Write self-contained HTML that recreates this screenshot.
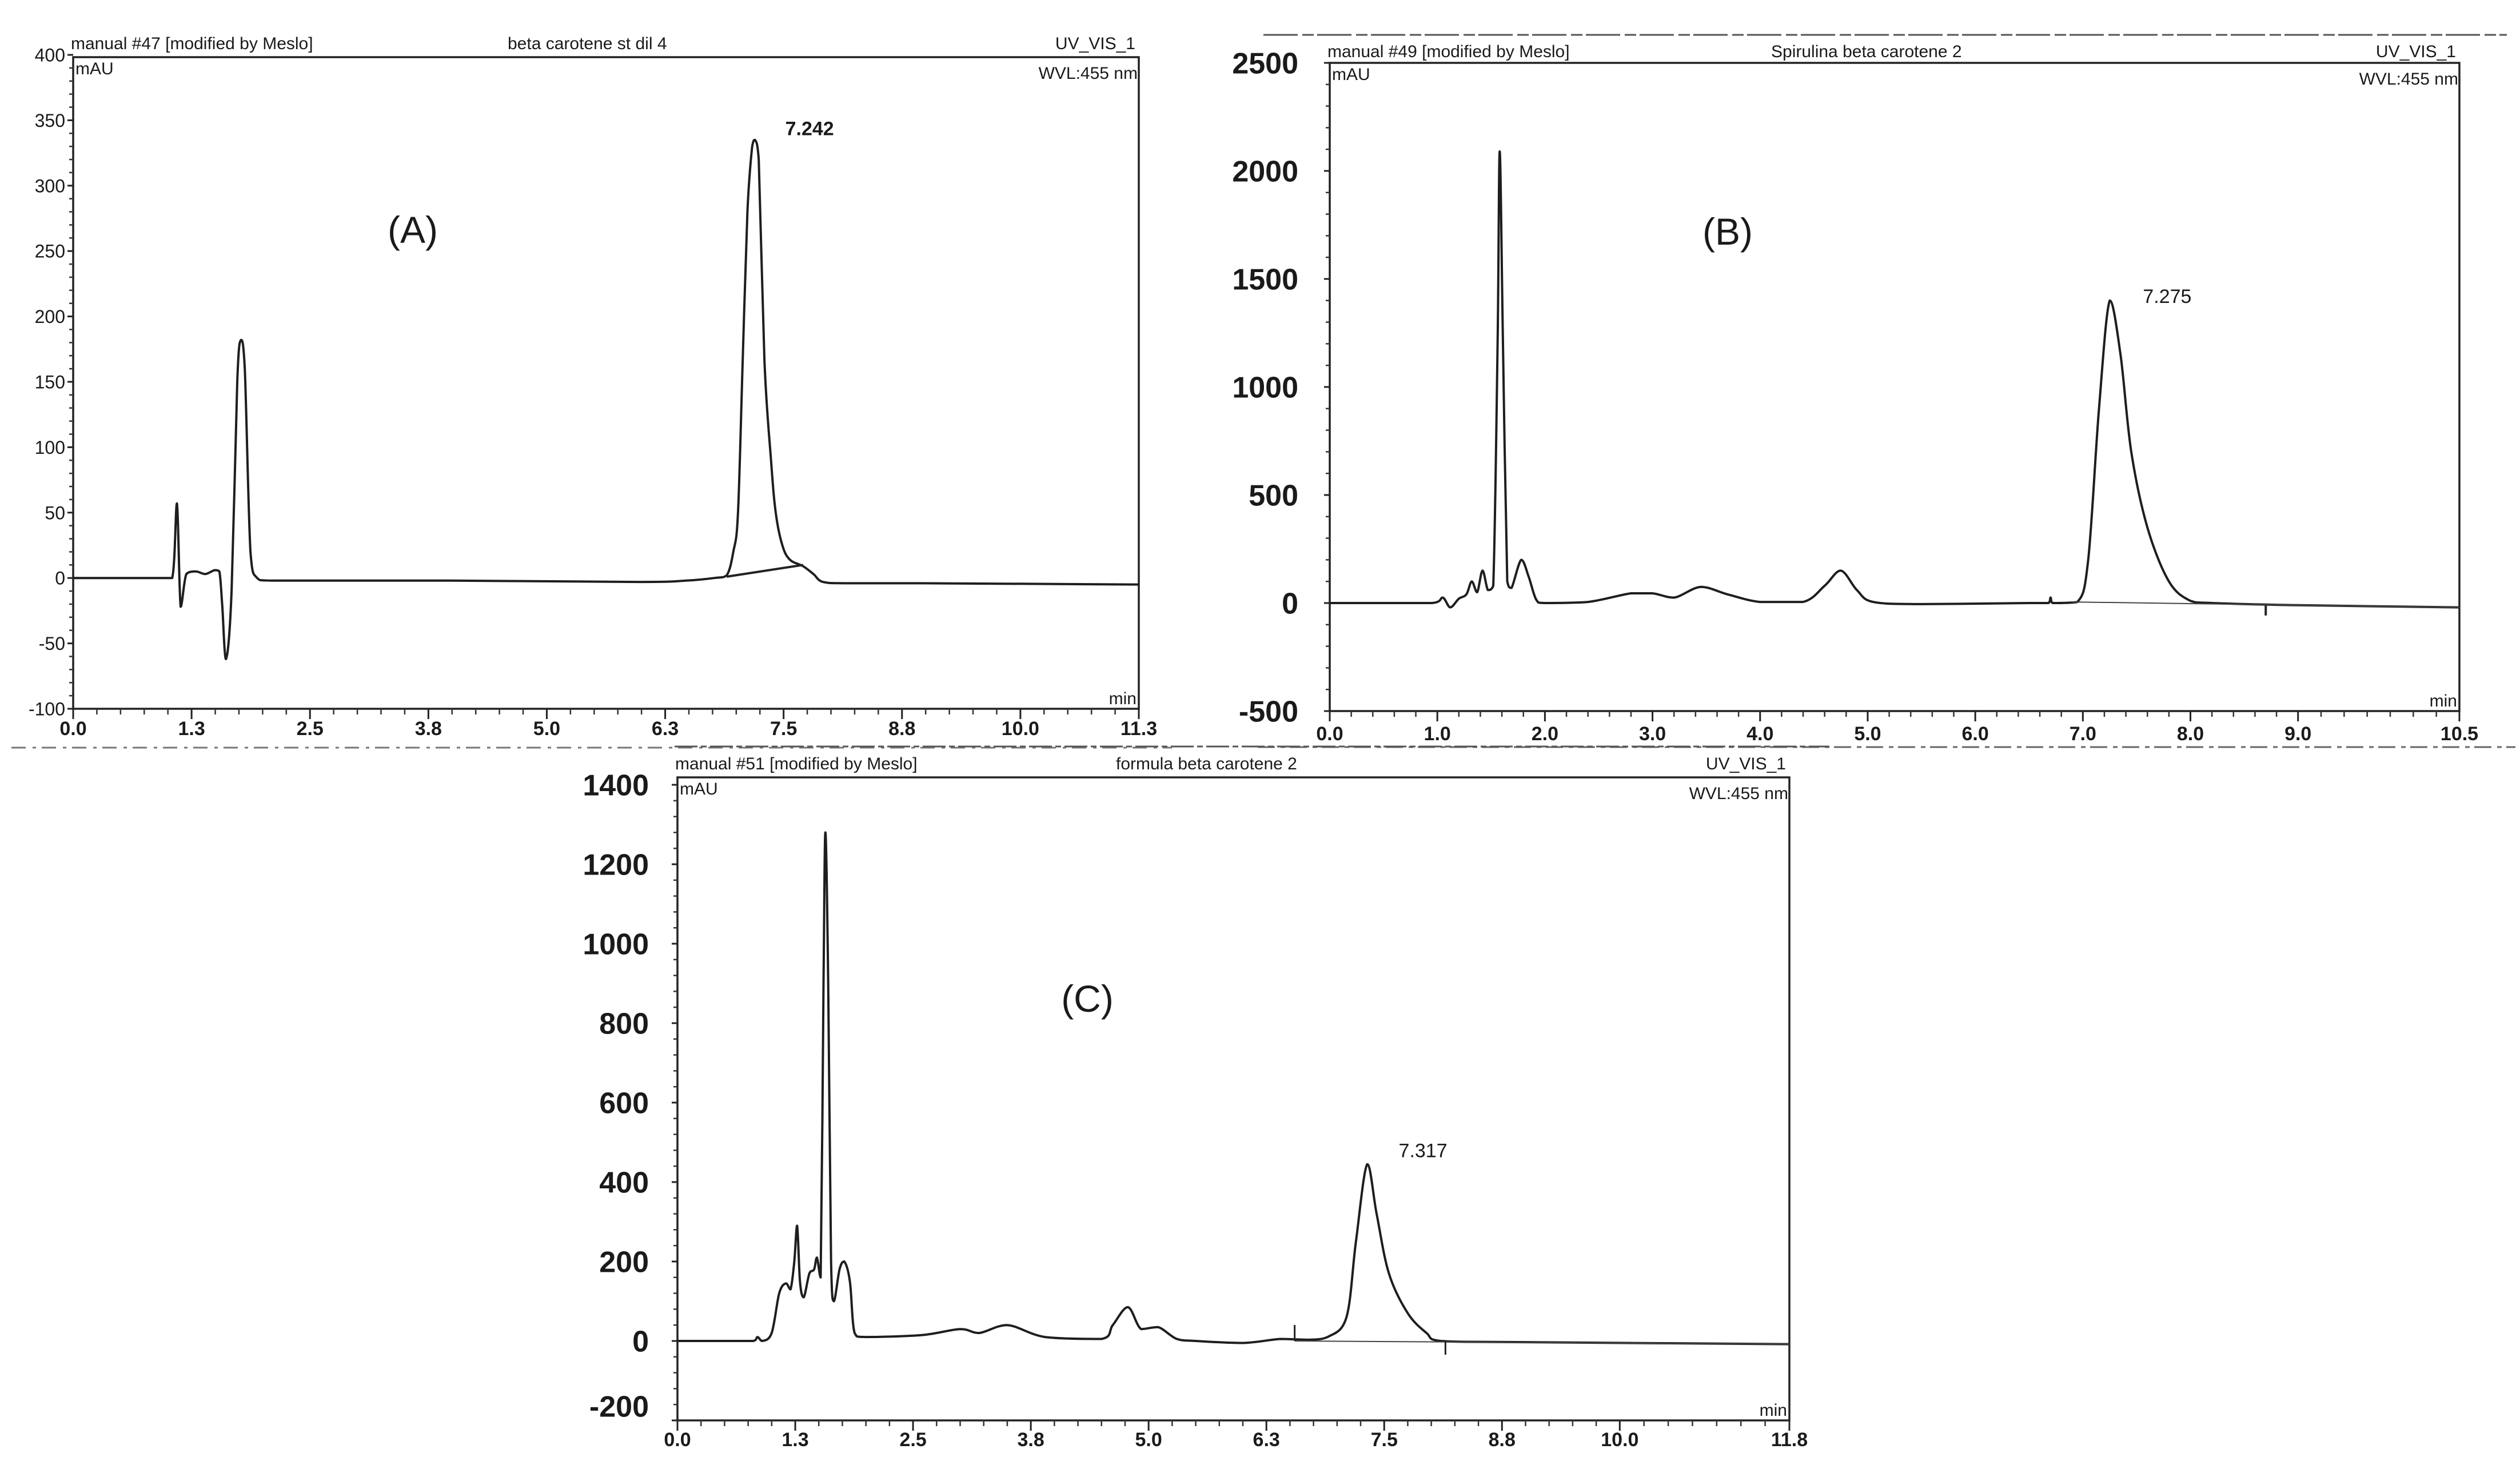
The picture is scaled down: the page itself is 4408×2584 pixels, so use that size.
<!DOCTYPE html>
<html><head><meta charset="utf-8"><style>
html,body{margin:0;padding:0;background:#fff;}
svg{display:block;}
text{font-family:"Liberation Sans",sans-serif;fill:#1a1a1a;}
</style></head>
<body>
<svg id="fig" width="4408" height="2584" viewBox="0 0 4408 2584" xmlns="http://www.w3.org/2000/svg">
<rect x="0" y="0" width="4408" height="2584" fill="#fff"/>
<g id="root"></g>
</svg>
<script>
// ---- Panel A data ----
const timesA = [0,0.9,1.05,1.1,1.14,1.2,1.3,1.4,1.5,1.55,1.58,1.62,1.68,1.74,1.78,1.82,1.88,1.95,2.1,4,6,6.5,6.8,6.93,7.0,7.05,7.1,7.15,7.2,7.23,7.27,7.33,7.4,7.45,7.52,7.6,7.74,7.85,7.95,8.2,9,11.3];
const valuesA = [0,0,0,57,-22,3,5,3,6,5,-20,-62,-10,150,182,160,20,0,-2,-2,-3,-2,0,2,20,50,167,280,330,335,320,167,90,50,25,14,9,3,-3,-4,-4,-5];
const yTicksA = [400,350,300,250,200,150,100,50,0,-50,-100];
const xTicksA = ["0.0","1.3","2.5","3.8","5.0","6.3","7.5","8.8","10.0","11.3"];
const xTickValsA = [0,1.2556,2.5111,3.7667,5.0222,6.2778,7.5333,8.7889,10.0444,11.3];
// ---- Panel B data ----
const timesB = [0,0.95,1.05,1.12,1.2,1.27,1.32,1.37,1.42,1.47,1.52,1.56,1.58,1.61,1.65,1.69,1.78,1.85,1.92,2.0,2.4,2.8,3.0,3.2,3.45,3.7,4.0,4.4,4.6,4.75,4.9,5.05,5.5,6.5,6.68,6.7,6.72,6.95,7.05,7.15,7.25,7.35,7.45,7.6,7.8,8.0,8.2,9,10.5];
const valuesB = [0,0,25,-20,20,40,100,50,150,60,80,1200,2090,1200,100,70,200,120,15,0,5,45,45,25,75,40,5,5,80,150,60,5,-5,0,0,25,0,5,200,900,1400,1150,700,350,100,10,0,-10,-20];
const yTicksB = [2500,2000,1500,1000,500,0,-500];
const xTicksB = ["0.0","1.0","2.0","3.0","4.0","5.0","6.0","7.0","8.0","9.0","10.5"];
const xTickValsB = [0,1,2,3,4,5,6,7,8,9,10.5];
// ---- Panel C data ----
const timesC = [0,0.8,0.85,0.9,1.0,1.08,1.15,1.2,1.24,1.27,1.3,1.34,1.4,1.45,1.48,1.52,1.55,1.57,1.6,1.63,1.66,1.72,1.77,1.83,1.88,2.0,2.6,3.0,3.2,3.5,3.9,4.5,4.62,4.78,4.92,5.1,5.3,5.5,6.0,6.4,6.7,6.9,7.1,7.2,7.32,7.42,7.55,7.75,7.95,8.1,9,11.8];
const valuesC = [0,0,10,0,20,120,145,130,200,290,150,110,170,180,210,160,900,1280,900,200,100,180,200,150,20,10,15,30,20,40,10,5,40,85,30,35,5,0,-5,5,3,10,60,250,445,320,170,70,20,0,-3,-8];
const yTicksC = [1400,1200,1000,800,600,400,200,0,-200];
const xTicksC = ["0.0","1.3","2.5","3.8","5.0","6.3","7.5","8.8","10.0","11.8"];
const xTickValsC = [0,1.25,2.5,3.75,5,6.25,7.5,8.75,10,11.8];

const NS = "http://www.w3.org/2000/svg";
const root = document.getElementById('root');
function mk(tag, attrs, parent, txt){
  const e = document.createElementNS(NS, tag);
  for (const k in attrs) e.setAttribute(k, attrs[k]);
  if (txt !== undefined) e.textContent = txt;
  parent.appendChild(e);
  return e;
}
function smoothPath(pts){
  let d = 'M'+pts[0][0].toFixed(1)+','+pts[0][1].toFixed(1);
  for (let i=0;i<pts.length-1;i++){
    const p0 = pts[Math.max(0,i-1)], p1 = pts[i], p2 = pts[i+1], p3 = pts[Math.min(pts.length-1,i+2)];
    const lo = Math.min(p1[1],p2[1]), hi = Math.max(p1[1],p2[1]);
    let c1x = p1[0]+(p2[0]-p0[0])/6, c1y = p1[1]+(p2[1]-p0[1])/6;
    let c2x = p2[0]-(p3[0]-p1[0])/6, c2y = p2[1]-(p3[1]-p1[1])/6;
    c1x = Math.min(Math.max(c1x,p1[0]),p2[0]); c2x = Math.min(Math.max(c2x,p1[0]),p2[0]);
    c1y = Math.min(Math.max(c1y,lo),hi); c2y = Math.min(Math.max(c2y,lo),hi);
    d += 'C'+c1x.toFixed(1)+','+c1y.toFixed(1)+' '+c2x.toFixed(1)+','+c2y.toFixed(1)+' '+p2[0].toFixed(1)+','+p2[1].toFixed(1);
  }
  return d;
}

function panel(cfg){
  const g = mk('g', {}, root);
  
  
  const xs = t => cfg.x0 + (t - cfg.tmin) / (cfg.tmax - cfg.tmin) * (cfg.x1 - cfg.x0);
  const ys = v => cfg.y0 + (cfg.vmax - v) / (cfg.vmax - cfg.vmin) * (cfg.y1 - cfg.y0);
  const fr = mk('rect', {x:cfg.x0, y:cfg.top, width:cfg.x1-cfg.x0, height:cfg.y1-cfg.top, fill:'none', stroke:'#222', 'stroke-width':3.5}, g);
  
  
  const ya = mk('g', {}, g);
  
  
  const yt = cfg.yTicks;
  const step = yt[0]-yt[1];
  for (let i=0;i<yt.length;i++){
    const y = ys(yt[i]);
    mk('line',{x1:cfg.x0-10,x2:cfg.x0,y1:y,y2:y,stroke:'#222','stroke-width':3},ya);
    const ly = (cfg.lastYShift && i===yt.length-1) ? y-cfg.lastYShift : y;
    const lb = mk('text',{x:cfg.x0-cfg.ylOff,y:ly+cfg.yfs*0.36,'font-size':cfg.yfs,'font-weight':cfg.ybold?'bold':'normal','text-anchor':'end'},ya,String(yt[i]));
    
    
    if (i<yt.length-1){
      for (let k=1;k<5;k++){
        const yy = ys(yt[i]-step*k/5);
        mk('line',{x1:cfg.x0-7,x2:cfg.x0,y1:yy,y2:yy,stroke:'#333','stroke-width':2.5},ya);
      }
    }
  }
  const xa = mk('g', {}, g);
  
  
  const n = cfg.xTicks.length;
  for (let i=0;i<n;i++){
    const x = xs(cfg.xVals[i]);
    mk('line',{x1:x,x2:x,y1:cfg.y1,y2:cfg.y1+18,stroke:'#222','stroke-width':3},xa);
    const lb = mk('text',{x:x,y:cfg.xlY,'font-size':cfg.xfs,'font-weight':'bold','text-anchor':'middle'},xa,cfg.xTicks[i]);
    
    
    if (i<n-1){
      const nx = xs(cfg.xVals[i+1]);
      const m = Math.round((nx-x)/((cfg.x1-cfg.x0)/(n-1)/5));
      for (let k=1;k<m;k++){
        const xx = x + k/m*(nx-x);
        mk('line',{x1:xx,x2:xx,y1:cfg.y1,y2:cfg.y1+10,stroke:'#333','stroke-width':2.5},xa);
      }
    }
  }
  const hs = 30;
  const h1 = mk('text',{x:cfg.x0-4,y:cfg.hY,'font-size':hs},g,cfg.h1);
   
  const h2 = mk('text',{x:cfg.h2x,y:cfg.hY,'font-size':hs},g,cfg.h2);
   
  const h3 = mk('text',{x:cfg.x1-6,y:cfg.hY,'font-size':hs,'text-anchor':'end'},g,'UV_VIS_1');
   
  const h4 = mk('text',{x:cfg.x1-2,y:cfg.top+38,'font-size':hs,'text-anchor':'end'},g,'WVL:455 nm');
   
  const h5 = mk('text',{x:cfg.x0+4,y:cfg.top+30,'font-size':hs},g,'mAU');
   
  const h6 = mk('text',{x:cfg.x1-4,y:cfg.y1-8,'font-size':hs,'text-anchor':'end'},g,'min');
   
  const pl = mk('text',{x:cfg.lx,y:cfg.ly,'font-size':66,'text-anchor':'middle'},g,cfg.letter);
   
  const pts = cfg.t.map((t,i)=>[xs(t), ys(cfg.v[i])]);
  const tr = mk('path',{d:smoothPath(pts),fill:'none',stroke:'#1e1e1e','stroke-width':4,'stroke-linejoin':'round'},g);
   
  let mi = cfg.t.findIndex(t=>t>6.5);
  for (let i=mi;i<cfg.v.length;i++) if (cfg.v[i]>cfg.v[mi]) mi=i;
  const pk = mk('text',{x:xs(cfg.t[mi])+cfg.pkdx,y:ys(cfg.v[mi])-cfg.pkdy,'font-size':34,'font-weight':cfg.pkbold?'bold':'normal'},g,cfg.pk);
   
  return {g, xs, ys};
}

const A = panel({name:'panel-a', x0:128,x1:1992,y0:96,y1:1240,top:100,tmin:0,tmax:11.3,vmin:-100,vmax:400,
  t:timesA,v:valuesA,yTicks:yTicksA,xTicks:xTicksA,xVals:xTickValsA,yfs:32,ybold:false,ylOff:14,xfs:34,xlY:1286,
  hY:86,h1:'manual #47 [modified by Meslo]',h2:'beta carotene st dil 4',h2x:888,
  letter:'(A)',lx:722,ly:425,pk:'7.242',pkdx:53,pkdy:8,pkbold:true});
const ib = mk('line',{x1:A.xs(6.93),y1:A.ys(1),x2:A.xs(7.74),y2:A.ys(10),stroke:'#222','stroke-width':4},A.g);
 

const B = panel({name:'panel-b', x0:2326,x1:4302,y0:110,y1:1244,top:110,tmin:0,tmax:10.5,vmin:-500,vmax:2500,
  t:timesB,v:valuesB,yTicks:yTicksB,xTicks:xTicksB,xVals:xTickValsB,yfs:52,ybold:true,ylOff:55,xfs:34,xlY:1295,
  hY:100,h1:'manual #49 [modified by Meslo]',h2:'Spirulina beta carotene 2',h2x:3098,
  letter:'(B)',lx:3022,ly:428,pk:'7.275',pkdx:58,pkdy:-4,pkbold:false});
const bl = mk('line',{x1:B.xs(6.9),y1:B.ys(5),x2:B.xs(10.5),y2:B.ys(-20),stroke:'#444','stroke-width':2},B.g);
 
const bm = mk('line',{x1:B.xs(8.7),y1:B.ys(-10),x2:B.xs(8.7),y2:B.ys(-10)+18,stroke:'#222','stroke-width':4},B.g);
 

const C = panel({name:'panel-c', x0:1185,x1:3130,y0:1373,y1:2485,top:1360,tmin:0,tmax:11.8,vmin:-200,vmax:1400,
  t:timesC,v:valuesC,yTicks:yTicksC,xTicks:xTicksC,xVals:xTickValsC,yfs:52,ybold:true,ylOff:50,xfs:34,xlY:2530,lastYShift:25,
  hY:1346,h1:'manual #51 [modified by Meslo]',h2:'formula beta carotene 2',h2x:1952,
  letter:'(C)',lx:1902,ly:1770,pk:'7.317',pkdx:55,pkdy:12,pkbold:false});
const cl = mk('line',{x1:C.xs(6.55),y1:C.ys(0),x2:C.xs(11.8),y2:C.ys(-8),stroke:'#444','stroke-width':2},C.g);
 
const cm1 = mk('line',{x1:C.xs(6.55),y1:C.ys(0),x2:C.xs(6.55),y2:C.ys(0)-28,stroke:'#222','stroke-width':3},C.g);
 
const cm2 = mk('line',{x1:C.xs(8.15),y1:C.ys(0),x2:C.xs(8.15),y2:C.ys(0)+24,stroke:'#222','stroke-width':3},C.g);
 

const s1 = mk('line',{x1:2210,y1:61,x2:4385,y2:61,stroke:'#555','stroke-width':3,'stroke-dasharray':'60 8 20 6'},root);
 
const s2 = mk('line',{x1:2200,y1:1307,x2:4400,y2:1307,stroke:'#666','stroke-width':3,'stroke-dasharray':'30 10 8 8'},root);
 
const s3 = mk('line',{x1:20,y1:1308,x2:2050,y2:1308,stroke:'#777','stroke-width':3,'stroke-dasharray':'25 12 6 10'},root);
 
const s4 = mk('line',{x1:1180,y1:1306,x2:3200,y2:1306,stroke:'#555','stroke-width':3,'stroke-dasharray':'40 6 10 6'},root);
 
</script>
</body></html>
